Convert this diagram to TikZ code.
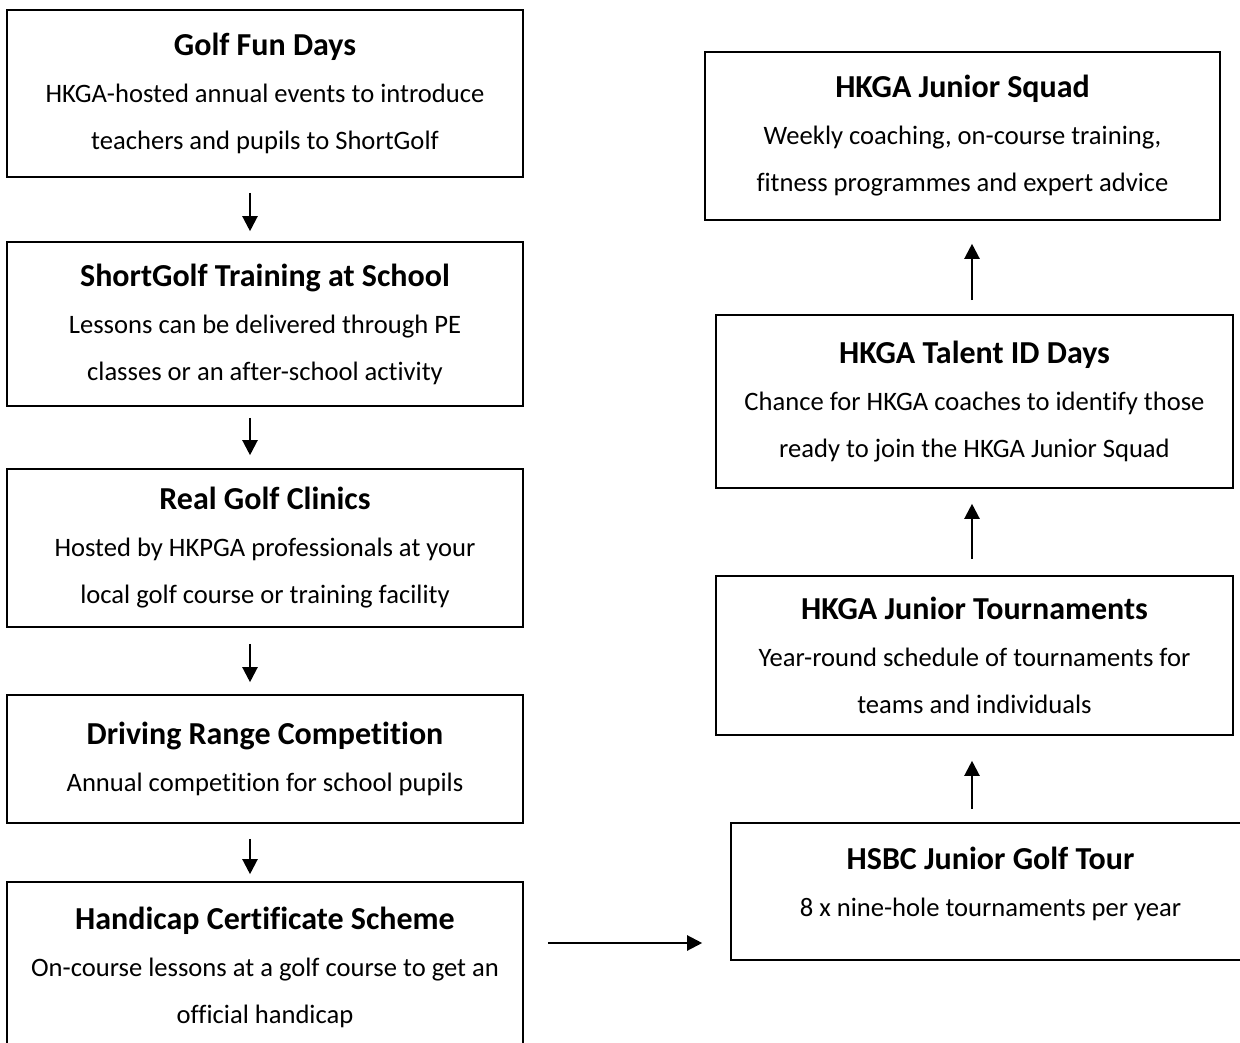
\documentclass[tikz,border=0pt]{standalone}
\usepackage{fontspec}
\setmainfont{Carlito}[Ligatures=NoCommon]
\usetikzlibrary{arrows.meta}

\newcommand{\stagetitle}[1]{{\fontsize{32}{48}\selectfont\bfseries #1}}

\begin{document}
\begin{tikzpicture}[x=1pt, y=-1pt,
    box/.style={draw, line width=1.6pt, inner sep=0pt, align=center,
                font=\fontsize{26.6}{47}\selectfont},
    arr/.style={-{Triangle[width=15pt,length=15pt]}, line width=2.2pt}]
    \useasboundingbox (0,0) rectangle (1240,1043);

    % left column
    \node[box, minimum width=516pt, minimum height=167pt] at (265,93.5) (fun)
        {\stagetitle{Golf Fun Days}\\ HKGA-hosted annual events to introduce\\ teachers and pupils to ShortGolf};
    \node[box, minimum width=516pt, minimum height=164pt] at (265,324) (school)
        {\stagetitle{ShortGolf Training at School}\\ Lessons can be delivered through PE\\ classes or an after-school activity};
    \node[box, minimum width=516pt, minimum height=158pt] at (265,548) (clinic)
        {\stagetitle{Real Golf Clinics}\\ Hosted by HKPGA professionals at your\\ local golf course or training facility};
    \node[box, minimum width=516pt, minimum height=128pt] at (265,759) (range)
        {\stagetitle{Driving Range Competition}\\ Annual competition for school pupils};
    \node[box, minimum width=516pt, minimum height=170pt] at (265,967) (cert)
        {\stagetitle{Handicap Certificate Scheme}\\ On-course lessons at a golf course to get an\\ official handicap};

    % right column
    \node[box, minimum width=515pt, minimum height=168pt] at (962.5,136) (squad)
        {\stagetitle{HKGA Junior Squad}\\ Weekly coaching, on-course training,\\ fitness programmes and expert advice};
    \node[box, minimum width=517pt, minimum height=173pt] at (974.5,401.5) (talent)
        {\stagetitle{HKGA Talent ID Days}\\ Chance for HKGA coaches to identify those\\ ready to join the HKGA Junior Squad};
    \node[box, minimum width=517pt, minimum height=159pt] at (974.5,655.5) (tourn)
        {\stagetitle{HKGA Junior Tournaments}\\ Year-round schedule of tournaments for\\ teams and individuals};
    \node[box, minimum width=519pt, minimum height=137pt] at (990.5,891.5) (hsbc)
        {\stagetitle{HSBC Junior Golf Tour}\\ 8 x nine-hole tournaments per year\\[-42pt]\strut};

    \draw[arr, shorten <=15pt, shorten >=10pt] ([xshift=-15pt]fun.south) -- ([xshift=-15pt]school.north);
    \draw[arr, shorten <=11pt, shorten >=13pt] ([xshift=-15pt]school.south) -- ([xshift=-15pt]clinic.north);
    \draw[arr, shorten <=16pt, shorten >=12pt] ([xshift=-15pt]clinic.south) -- ([xshift=-15pt]range.north);
    \draw[arr, shorten <=15pt, shorten >=7pt] ([xshift=-15pt]range.south) -- ([xshift=-15pt]cert.north);

    \draw[arr, shorten <=24pt, shorten >=28pt] ([yshift=24pt]cert.east) -- ([yshift=24pt]cert.east -| hsbc.west);

    \draw[arr, shorten <=13pt, shorten >=25pt] ([xshift=-2.5pt]tourn.north |- hsbc.north) -- ([xshift=-2.5pt]tourn.south);
    \draw[arr, shorten <=16pt, shorten >=15pt] ([xshift=-2.5pt]tourn.north) -- ([xshift=-2.5pt]talent.south);
    \draw[arr, shorten <=14pt, shorten >=23pt] ([xshift=-2.5pt]talent.north) -- ([xshift=-2.5pt]talent.north |- squad.south);
\end{tikzpicture}
\end{document}
